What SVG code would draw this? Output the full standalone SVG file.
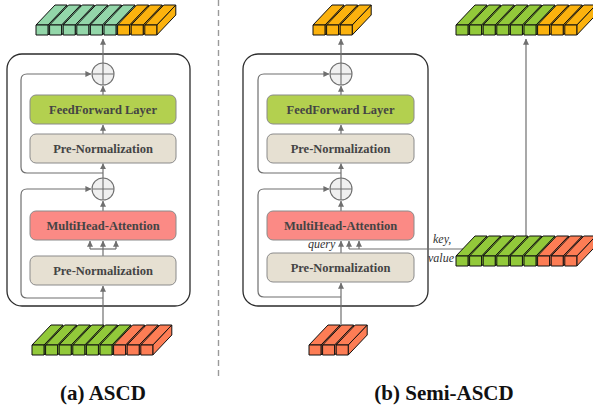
<svg xmlns="http://www.w3.org/2000/svg" xmlns:xlink="http://www.w3.org/1999/xlink" width="593" height="414" viewBox="0 0 593 414">
  <style>
    .frame { fill: #ffffff; stroke: #2b2b2b; stroke-width: 1.3; }
    .box { stroke: #8a8a8a; stroke-width: 1; }
    .ff { fill: #b3d04f; }
    .mha { fill: #fb8a85; }
    .norm { fill: #e6e0d2; }
    .label { font-family: "Liberation Serif", "Times New Roman", serif; font-weight: bold; font-size: 12.5px; fill: #444444; text-anchor: middle; }
    .italic { font-family: "Liberation Serif", "Times New Roman", serif; font-style: italic; font-size: 12px; fill: #333333; }
    .caption { font-family: "Liberation Serif", "Times New Roman", serif; font-weight: bold; font-size: 21px; fill: #111111; text-anchor: middle; }
    .wire { fill: none; stroke: #6f6f6f; stroke-width: 1.2; stroke-linejoin: round; }
    .arrow { fill: none; stroke: #6f6f6f; stroke-width: 1.2; marker-end: url(#head); }
    .sum { fill: #f0f0f0; stroke: #6f6f6f; stroke-width: 1.1; }
    .sumx { stroke: #6f6f6f; stroke-width: 1.1; }
    .cell path { stroke: #111111; stroke-width: 1; stroke-linejoin: round; }
    .mint { fill: #93d6a9; }
    .amber { fill: #fbb20e; }
    .lime { fill: #92c93a; }
    .coral { fill: #fd7d55; }
    .divider { stroke: #9a9a9a; stroke-width: 1.4; stroke-dasharray: 6 4; }
  </style>
  <defs>
    <marker id="head" viewBox="0 0 8 8" refX="7.5" refY="4" markerWidth="6" markerHeight="6" markerUnits="userSpaceOnUse" orient="auto">
      <path d="M0,0 L8,4 L0,8 z" fill="#6f6f6f"/>
    </marker>
    <!-- one 3D token block, anchored at the top-left corner of its front face -->
    <g id="cell" class="cell">
      <path d="M12,0 l19,-20 v10 l-19,20 z"/>
      <path d="M0,0 l19,-20 h12 l-19,20 z"/>
      <path d="M0,0 h12 v10 h-12 z"/>
    </g>
    <!-- summation node -->
    <g id="plus">
      <circle class="sum" cx="0" cy="0" r="11"/>
      <path class="sumx" d="M-11,0 H11 M0,-11 V11"/>
    </g>
  </defs>

  <!-- panel divider -->
  <line class="divider" x1="218.5" y1="0" x2="218.5" y2="378"/>

  <!-- ===================== (a) ASCD ===================== -->
  <g id="a-frame">
    <rect class="frame" x="7" y="54" width="183" height="252" rx="15"/>
  </g>

  <g id="a-connectors">
    <!-- input to lower norm -->
    <line class="arrow" x1="103" y1="326" x2="103" y2="286"/>
    <!-- residual around attention -->
    <path class="arrow" d="M103,298 H27 Q21,298 21,292 V195 Q21,189 27,189 H91"/>
    <!-- q/k/v split -->
    <line class="wire" x1="103" y1="256" x2="103" y2="249"/>
    <line class="wire" x1="90" y1="249" x2="116" y2="249"/>
    <line class="arrow" x1="90" y1="249" x2="90" y2="241"/>
    <line class="arrow" x1="103" y1="249" x2="103" y2="241"/>
    <line class="arrow" x1="116" y1="249" x2="116" y2="241"/>
    <!-- attention to sum -->
    <line class="arrow" x1="103" y1="211" x2="103" y2="201"/>
    <!-- sum to upper norm -->
    <line class="arrow" x1="103" y1="178" x2="103" y2="163.5"/>
    <!-- residual around feed-forward -->
    <path class="arrow" d="M103,173 H27 Q21,173 21,167 V80 Q21,74 27,74 H91"/>
    <line class="arrow" x1="103" y1="134" x2="103" y2="125"/>
    <line class="arrow" x1="103" y1="95" x2="103" y2="86"/>
    <!-- output -->
    <line class="arrow" x1="103" y1="63" x2="103" y2="39"/>
  </g>

  <g id="a-sum-top"><use xlink:href="#plus" x="103" y="74"/></g>
  <g id="a-sum-bottom"><use xlink:href="#plus" x="103" y="189"/></g>

  <g id="a-ff">
    <rect class="box ff" x="30" y="95" width="146" height="29" rx="6"/>
    <text class="label" x="103" y="114">FeedForward Layer</text>
  </g>
  <g id="a-norm-top">
    <rect class="box norm" x="30" y="134" width="146" height="29" rx="6"/>
    <text class="label" x="103" y="153">Pre-Normalization</text>
  </g>
  <g id="a-mha">
    <rect class="box mha" x="30" y="211" width="146" height="29" rx="6"/>
    <text class="label" x="103" y="230">MultiHead-Attention</text>
  </g>
  <g id="a-norm-bottom">
    <rect class="box norm" x="30" y="256" width="146" height="29" rx="6"/>
    <text class="label" x="103" y="275">Pre-Normalization</text>
  </g>

  <g id="a-output-tokens">
    <use xlink:href="#cell" class="mint" x="36" y="25"/>
    <use xlink:href="#cell" class="mint" x="49.6" y="25"/>
    <use xlink:href="#cell" class="mint" x="63.2" y="25"/>
    <use xlink:href="#cell" class="mint" x="76.8" y="25"/>
    <use xlink:href="#cell" class="mint" x="90.4" y="25"/>
    <use xlink:href="#cell" class="mint" x="104" y="25"/>
    <use xlink:href="#cell" class="amber" x="117.6" y="25"/>
    <use xlink:href="#cell" class="amber" x="131.2" y="25"/>
    <use xlink:href="#cell" class="amber" x="144.8" y="25"/>
  </g>
  <g id="a-input-tokens">
    <use xlink:href="#cell" class="lime" x="32" y="345"/>
    <use xlink:href="#cell" class="lime" x="45.6" y="345"/>
    <use xlink:href="#cell" class="lime" x="59.2" y="345"/>
    <use xlink:href="#cell" class="lime" x="72.8" y="345"/>
    <use xlink:href="#cell" class="lime" x="86.4" y="345"/>
    <use xlink:href="#cell" class="lime" x="100" y="345"/>
    <use xlink:href="#cell" class="coral" x="113.6" y="345"/>
    <use xlink:href="#cell" class="coral" x="127.2" y="345"/>
    <use xlink:href="#cell" class="coral" x="140.8" y="345"/>
  </g>
  <text class="caption" x="103" y="400">(a) ASCD</text>

  <!-- ===================== (b) Semi-ASCD ===================== -->
  <g id="b-frame">
    <rect class="frame" x="243" y="54" width="185" height="252" rx="15"/>
  </g>

  <g id="b-connectors">
    <line class="arrow" x1="341" y1="326" x2="341" y2="283"/>
    <path class="arrow" d="M341,297 H264 Q258,297 258,291 V195 Q258,189 264,189 H329"/>
    <!-- query -->
    <line class="arrow" x1="341" y1="253" x2="341" y2="241"/>
    <!-- key / value from the context tokens -->
    <line class="wire" x1="349" y1="249" x2="465" y2="249"/>
    <line class="arrow" x1="349" y1="249" x2="349" y2="241"/>
    <line class="arrow" x1="359" y1="249" x2="359" y2="241"/>
    <line class="arrow" x1="341" y1="211" x2="341" y2="201"/>
    <line class="arrow" x1="341" y1="178" x2="341" y2="163.5"/>
    <path class="arrow" d="M341,173 H264 Q258,173 258,167 V80 Q258,74 264,74 H329"/>
    <line class="arrow" x1="341" y1="134" x2="341" y2="125"/>
    <line class="arrow" x1="341" y1="95" x2="341" y2="86"/>
    <line class="arrow" x1="341" y1="63" x2="341" y2="39"/>
    <!-- context passthrough -->
    <line class="arrow" x1="526" y1="245" x2="526" y2="39"/>
  </g>

  <g id="b-sum-top"><use xlink:href="#plus" x="341" y="74"/></g>
  <g id="b-sum-bottom"><use xlink:href="#plus" x="341" y="189"/></g>

  <g id="b-ff">
    <rect class="box ff" x="267" y="95" width="147" height="29" rx="6"/>
    <text class="label" x="340.5" y="114">FeedForward Layer</text>
  </g>
  <g id="b-norm-top">
    <rect class="box norm" x="267" y="134" width="147" height="29" rx="6"/>
    <text class="label" x="340.5" y="153">Pre-Normalization</text>
  </g>
  <g id="b-mha">
    <rect class="box mha" x="267" y="211" width="147" height="29" rx="6"/>
    <text class="label" x="340.5" y="230">MultiHead-Attention</text>
  </g>
  <g id="b-norm-bottom">
    <rect class="box norm" x="267" y="253" width="147" height="29" rx="6"/>
    <text class="label" x="340.5" y="272">Pre-Normalization</text>
  </g>

  <text class="italic" x="308" y="248">query</text>
  <text class="italic" x="433" y="243">key,</text>
  <text class="italic" x="428" y="262">value</text>

  <g id="b-output-tokens">
    <use xlink:href="#cell" class="amber" x="313" y="25"/>
    <use xlink:href="#cell" class="amber" x="326.6" y="25"/>
    <use xlink:href="#cell" class="amber" x="340.2" y="25"/>
  </g>
  <g id="b-context-output">
    <use xlink:href="#cell" class="lime" x="456" y="25"/>
    <use xlink:href="#cell" class="lime" x="469.6" y="25"/>
    <use xlink:href="#cell" class="lime" x="483.2" y="25"/>
    <use xlink:href="#cell" class="lime" x="496.8" y="25"/>
    <use xlink:href="#cell" class="lime" x="510.4" y="25"/>
    <use xlink:href="#cell" class="lime" x="524" y="25"/>
    <use xlink:href="#cell" class="amber" x="537.6" y="25"/>
    <use xlink:href="#cell" class="amber" x="551.2" y="25"/>
    <use xlink:href="#cell" class="amber" x="564.8" y="25"/>
  </g>
  <g id="b-context-tokens">
    <use xlink:href="#cell" class="lime" x="456" y="256"/>
    <use xlink:href="#cell" class="lime" x="469.6" y="256"/>
    <use xlink:href="#cell" class="lime" x="483.2" y="256"/>
    <use xlink:href="#cell" class="lime" x="496.8" y="256"/>
    <use xlink:href="#cell" class="lime" x="510.4" y="256"/>
    <use xlink:href="#cell" class="lime" x="524" y="256"/>
    <use xlink:href="#cell" class="coral" x="537.6" y="256"/>
    <use xlink:href="#cell" class="coral" x="551.2" y="256"/>
    <use xlink:href="#cell" class="coral" x="564.8" y="256"/>
  </g>
  <g id="b-input-tokens">
    <use xlink:href="#cell" class="coral" x="309" y="345"/>
    <use xlink:href="#cell" class="coral" x="322.6" y="345"/>
    <use xlink:href="#cell" class="coral" x="336.2" y="345"/>
  </g>
  <text class="caption" x="444" y="400">(b) Semi-ASCD</text>
</svg>
